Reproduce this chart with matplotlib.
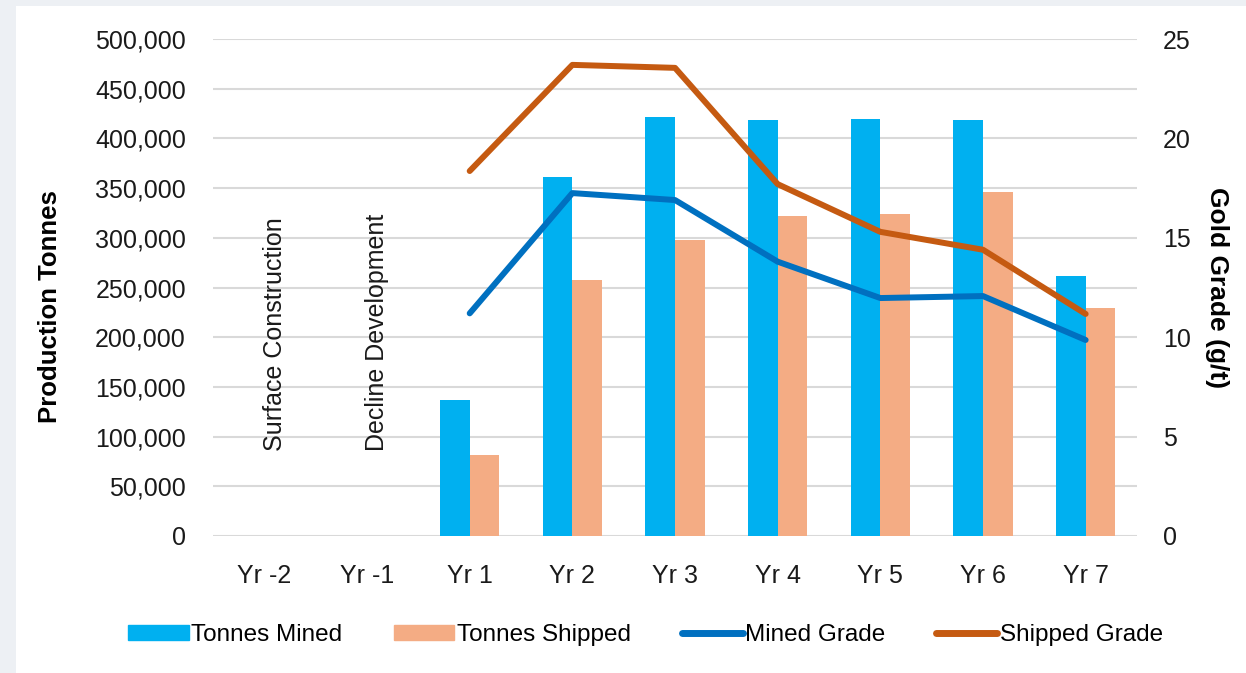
import numpy as np
import matplotlib
matplotlib.use("Agg")
import matplotlib.pyplot as plt
from matplotlib.patches import Rectangle
from matplotlib.lines import Line2D
from matplotlib.ticker import FuncFormatter

plt.rcParams['font.family'] = ['Liberation Sans', 'DejaVu Sans']

years = ['Yr -2', 'Yr -1', 'Yr 1', 'Yr 2', 'Yr 3', 'Yr 4', 'Yr 5', 'Yr 6', 'Yr 7']
tonnes_mined = [0, 0, 137000, 361000, 421500, 418500, 419500, 418500, 261500]
tonnes_shipped = [0, 0, 81500, 257500, 297500, 322000, 324000, 346500, 229000]
mined_grade = [np.nan, np.nan, 11.2, 17.25, 16.9, 13.8, 11.97, 12.07, 9.86]
shipped_grade = [np.nan, np.nan, 18.36, 23.7, 23.55, 17.7, 15.3, 14.4, 11.17]
phase_labels = ['Surface Construction', 'Decline Development']

c_mined = '#00B0F0'
c_shipped = '#F4AC84'
c_mgrade = '#0070C0'
c_sgrade = '#C55A11'

fig = plt.figure(figsize=(12.46, 6.73), dpi=100)
fig.patch.set_facecolor('#EDF0F4')
fig.add_artist(Rectangle((16 / 1246, 0), 1, 1 - 6 / 673, transform=fig.transFigure,
                         facecolor='white', edgecolor='none', zorder=-10))

ax = fig.add_axes([0.171, 0.2036, 0.7415, 0.7384])
ax.set_facecolor('none')
x = np.arange(len(years))
w = 0.29
ax.bar(x - w / 2, tonnes_mined, width=w, color=c_mined, zorder=2)
ax.bar(x + w / 2, tonnes_shipped, width=w, color=c_shipped, zorder=2)

ax.set_xlim(-0.5, len(years) - 0.5)
ax.set_ylim(0, 500000)
ax.set_yticks(np.arange(0, 500001, 50000))
ax.yaxis.set_major_formatter(FuncFormatter(lambda v, p: f'{int(v):,}'))
ax.set_xticks(x)
ax.set_xticklabels(years)
ax.grid(axis='y', color='#D9D9D9', linewidth=1.5, zorder=0)
ax.set_axisbelow(True)
for s in ax.spines.values():
    s.set_visible(False)
ax.tick_params(length=0, labelsize=18, colors='#1a1a1a')
ax.tick_params(axis='y', pad=19.5)
ax.tick_params(axis='x', pad=20)
ax.set_ylabel('Production Tonnes', fontsize=18.5, fontweight='bold')
ax.yaxis.set_label_coords(-0.163, 0.461)

for i, lab in enumerate(phase_labels):
    ax.text(i + 0.1, 86000, lab, rotation=90, ha='center', va='bottom', fontsize=18, color='#1a1a1a')

ax2 = ax.twinx()
ax2.plot(x, mined_grade, color=c_mgrade, linewidth=4.3, solid_capstyle='round', zorder=3)
ax2.plot(x, shipped_grade, color=c_sgrade, linewidth=4.3, solid_capstyle='round', zorder=3)
ax2.set_ylim(0, 25)
ax2.set_yticks(np.arange(0, 26, 5))
for s in ax2.spines.values():
    s.set_visible(False)
ax2.tick_params(length=0, labelsize=18, colors='#1a1a1a', pad=18.5)
ax2.set_ylabel('Gold Grade (g/t)', fontsize=19, fontweight='bold', rotation=270, labelpad=28)

handles = [Rectangle((0, 0), 1, 1, color=c_mined),
           Rectangle((0, 0), 1, 1, color=c_shipped),
           Line2D([], [], color=c_mgrade, linewidth=5, solid_capstyle='round'),
           Line2D([], [], color=c_sgrade, linewidth=5, solid_capstyle='round')]
fig.legend(handles, ['Tonnes Mined', 'Tonnes Shipped', 'Mined Grade', 'Shipped Grade'],
           loc='center', bbox_to_anchor=(0.518, 0.056), ncol=4, frameon=False,
           fontsize=17.5, handlelength=2.5, handleheight=0.55, handletextpad=0.1,
           columnspacing=2.1)

fig.savefig('out.png', dpi=100, facecolor=fig.get_facecolor())
